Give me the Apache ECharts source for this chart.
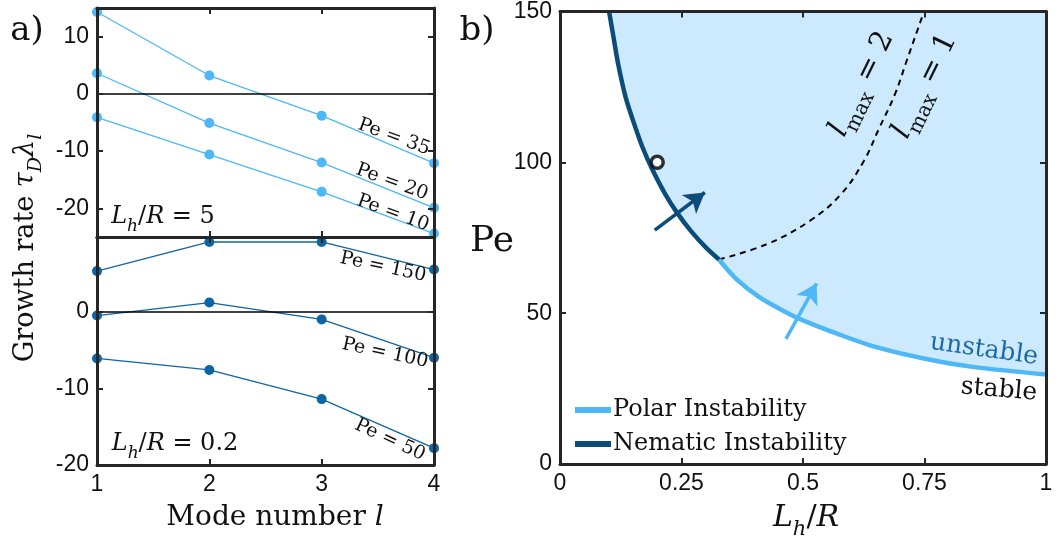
<!DOCTYPE html>
<html>
<head>
<meta charset="utf-8">
<script src="https://cdn.jsdelivr.net/npm/echarts@6/dist/echarts.min.js"></script>
<style>html,body{margin:0;padding:0;background:#fff}#chart{width:1057px;height:541px}</style>
</head>
<body>
<div id="chart"></div>
<script>
// ----- panel a: growth rate vs mode number -----
var modes = [1, 2, 3, 4];
// top, Lh/R = 5
var pe35 = [14.3, 3.2, -3.8, -12.1];
var pe20 = [3.6, -5.1, -12.0, -19.9];
var pe10 = [-4.1, -10.6, -17.1, -24.4];
// bottom, Lh/R = 0.2
var pe150 = [5.3, 9.1, 9.1, 5.5];
var pe100 = [-0.5, 1.2, -1.0, -6.0];
var pe50 = [-6.1, -7.6, -11.4, -17.8];

// ----- panel b: stability diagram -----
var nematicX = [0.101, 0.11, 0.12, 0.135, 0.15, 0.17, 0.19, 0.215, 0.24, 0.27, 0.30, 0.327];
var nematicPe = [150, 141.6, 132.3, 121.6, 114.0, 104.9, 97.6, 89.9, 83.5, 77.1, 71.8, 67.8];
var polarX = [0.327, 0.363, 0.41, 0.458, 0.5, 0.57, 0.649, 0.751, 0.849, 1.0];
var polarPe = [67.8, 61.3, 55.3, 50.9, 47.6, 43.2, 38.8, 34.9, 32.2, 29.7];
var lmaxX = [0.327, 0.426, 0.514, 0.578, 0.625, 0.657, 0.689, 0.713, 0.737, 0.749];
var lmaxPe = [67.8, 72.9, 80.6, 89.4, 100.4, 111.4, 122.5, 133.5, 144.5, 150];
var markedPoint = [0.2, 100];
var nematicArrow = [[0.195, 77.5], [0.298, 90]];
var polarArrow = [[0.465, 41.5], [0.528, 59.9]];

var lightBlue = '#4DB8F5';
var midBlue = '#0F64A3';
var darkBlue = '#0B4C78';
var fillBlue = '#CCE9FD';
var frame = '#262626';
var sans = '"Liberation Sans", Arial, sans-serif';
var serif = '"DejaVu Serif", serif';

function zip(xs, ys) { return xs.map(function (x, i) { return [x, ys[i]]; }); }

function xAx(grid, min, max, interval, showLabel, pos) {
  return {
    type: 'value', gridIndex: grid, min: min, max: max, interval: interval, position: pos, z: 10,
    axisLine: { show: true, onZero: false, lineStyle: { color: frame, width: 3 } },
    axisTick: { show: true, inside: true, length: 6, lineStyle: { color: frame, width: 2 } },
    axisLabel: { show: showLabel, color: '#111', fontFamily: sans, fontSize: 23, margin: 8 },
    splitLine: { show: false }
  };
}
function yAx(grid, min, max, interval, ticks, showLabel, pos) {
  return {
    type: 'value', gridIndex: grid, min: min, max: max, interval: interval, position: pos, z: 10,
    axisLine: { show: true, onZero: false, lineStyle: { color: frame, width: 3 } },
    axisTick: { show: true, inside: true, length: 6, customValues: ticks, lineStyle: { color: frame, width: 2 } },
    axisLabel: {
      show: showLabel, color: '#111', fontFamily: sans, fontSize: 23, margin: 8, customValues: ticks,
      formatter: function (v) { return ticks.indexOf(v) >= 0 ? String(v) : ''; }
    },
    splitLine: { show: false }
  };
}

var zeroLine = {
  silent: true, symbol: 'none', label: { show: false },
  lineStyle: { color: '#000', width: 1.5, type: 'solid' },
  data: [{ yAxis: 0 }]
};

function modeSeries(vals, color, xi, withZero) {
  var s = {
    type: 'line', xAxisIndex: xi, yAxisIndex: xi, data: zip(modes, vals),
    symbol: 'circle', symbolSize: 10, color: color,
    lineStyle: { color: color, width: 1.3 }, itemStyle: { color: color }, z: 3
  };
  if (withZero) s.markLine = zeroLine;
  return s;
}

function arrowLine(pts) {
  return {
    silent: true, symbol: ['none', 'arrow'], symbolSize: [18, 20], label: { show: false },
    lineStyle: { width: 3.5, type: 'solid' },
    data: [[{ coord: pts[0] }, { coord: pts[1] }]]
  };
}

// text with italic letters and subscripts, laid out piece by piece
// piece format: [text, 'n' | 'i' | 's' (italic sub) | 'r' (roman sub)]
var measureCtx = document.createElement('canvas').getContext('2d');
function pieceFont(kind, size) {
  var sub = kind === 's' || kind === 'r';
  var fs = sub ? Math.round(size * 0.7) : size;
  var it = kind === 'i' || kind === 's';
  return { size: fs, style: it ? 'italic' : 'normal', css: (it ? 'italic ' : '') + fs + 'px ' + serif, sub: sub };
}
function mathText(x, y, pieces, size, rot, color) {
  var widths = pieces.map(function (p) {
    measureCtx.font = pieceFont(p[1], size).css;
    return measureCtx.measureText(p[0]).width;
  });
  var total = widths.reduce(function (a, b) { return a + b; }, 0);
  var cx = -total / 2;
  var children = pieces.map(function (p, k) {
    var f = pieceFont(p[1], size);
    var el = {
      type: 'text', x: cx, y: f.sub ? size * 0.38 : 0, z: 100,
      style: {
        text: p[0], fontFamily: serif, fontSize: f.size, fontStyle: f.style,
        fill: color || '#111', align: 'left', verticalAlign: 'middle'
      }
    };
    cx += widths[k];
    return el;
  });
  return { type: 'group', x: x, y: y, rotation: (rot || 0) * Math.PI / 180, z: 100, children: children };
}
function label(x, y, text, size, rot, color) {
  return mathText(x, y, [[text, 'n']], size, rot, color);
}

var chart = echarts.init(document.getElementById('chart'), null, { renderer: 'canvas' });
chart.setOption({
  animation: false,
  backgroundColor: '#fff',
  grid: [
    { left: 97, top: 8, width: 337, height: 229 },
    { left: 97, top: 237, width: 337, height: 228 },
    { left: 560, top: 11, width: 486, height: 453 }
  ],
  xAxis: [
    xAx(0, 1, 4, 1, false, 'bottom'), xAx(0, 1, 4, 1, false, 'top'),
    xAx(1, 1, 4, 1, true, 'bottom'), xAx(1, 1, 4, 1, false, 'top'),
    xAx(2, 0, 1, 0.25, true, 'bottom'), xAx(2, 0, 1, 0.25, false, 'top')
  ],
  yAxis: [
    yAx(0, -25, 15, 5, [-20, -10, 0, 10], true, 'left'), yAx(0, -25, 15, 5, [-20, -10, 0, 10], false, 'right'),
    yAx(1, -20, 9.75, 10, [-20, -10, 0], true, 'left'), yAx(1, -20, 9.75, 10, [-20, -10, 0], false, 'right'),
    yAx(2, 0, 150, 50, [0, 50, 100, 150], true, 'left'), yAx(2, 0, 150, 50, [0, 50, 100, 150], false, 'right')
  ],
  legend: {
    data: ['Polar Instability', 'Nematic Instability'],
    orient: 'vertical', left: 570, top: 393, icon: 'rect', itemWidth: 36, itemHeight: 6, itemGap: 10,
    textStyle: { fontFamily: serif, fontSize: 24, color: '#111', padding: [0, 0, 0, -3] }
  },
  series: [
    modeSeries(pe35, lightBlue, 0, true),
    modeSeries(pe20, lightBlue, 0, false),
    modeSeries(pe10, lightBlue, 0, false),
    modeSeries(pe150, midBlue, 2, false),
    modeSeries(pe100, midBlue, 2, true),
    modeSeries(pe50, midBlue, 2, false),
    {
      type: 'line', xAxisIndex: 4, yAxisIndex: 4, symbol: 'none', silent: true, smooth: 0.3,
      data: zip(nematicX, nematicPe).concat(zip(polarX, polarPe).slice(1)),
      lineStyle: { width: 0 }, areaStyle: { color: fillBlue, opacity: 1, origin: 'end' }, z: 1
    },
    {
      name: 'Polar Instability', type: 'line', xAxisIndex: 4, yAxisIndex: 4, symbol: 'none', smooth: 0.3,
      data: zip(polarX, polarPe), color: lightBlue, itemStyle: { color: lightBlue },
      lineStyle: { color: lightBlue, width: 4.5 }, markLine: arrowLine(polarArrow), z: 4
    },
    {
      name: 'Nematic Instability', type: 'line', xAxisIndex: 4, yAxisIndex: 4, symbol: 'none', smooth: 0.3,
      data: zip(nematicX, nematicPe), color: darkBlue, itemStyle: { color: darkBlue },
      lineStyle: { color: darkBlue, width: 4.5 }, markLine: arrowLine(nematicArrow), z: 4
    },
    {
      type: 'line', xAxisIndex: 4, yAxisIndex: 4, symbol: 'none', smooth: 0.4,
      data: zip(lmaxX, lmaxPe), lineStyle: { color: '#000', width: 2, type: [6, 5] }, z: 3
    },
    {
      type: 'scatter', xAxisIndex: 4, yAxisIndex: 4, data: [markedPoint], symbol: 'circle', symbolSize: 12,
      itemStyle: { color: '#fff', borderColor: '#000', borderWidth: 3.5 }, z: 5
    }
  ],
  graphic: [
    label(27, 31, 'a)', 34, 0),
    label(477, 31, 'b)', 34, 0),
    mathText(275, 518, [['Mode number ', 'n'], ['l', 'i']], 28, 0),
    mathText(26, 248, [['Growth rate ', 'n'], ['τ', 'i'], ['D', 's'], ['λ', 'i'], ['l', 's']], 27, 90),
    label(492, 242, 'Pe', 36, 0),
    mathText(806, 518, [['L', 'i'], ['h', 's'], ['/', 'n'], ['R', 'i']], 30, 0),
    mathText(163, 217, [['L', 'i'], ['h', 's'], ['/', 'n'], ['R', 'i'], [' = 5', 'n']], 24, 0),
    mathText(175, 444, [['L', 'i'], ['h', 's'], ['/', 'n'], ['R', 'i'], [' = 0.2', 'n']], 24, 0),
    label(394, 137, 'Pe = 35', 19, -20),
    label(392, 182, 'Pe = 20', 19, -20),
    label(393, 213, 'Pe = 10', 19, -20),
    label(383, 267, 'Pe = 150', 19, -12),
    label(385, 353, 'Pe = 100', 19, -12),
    label(390, 440, 'Pe = 50', 19, -25),
    mathText(862, 84, [['l', 'i'], ['max', 'r'], [' = 2', 'n']], 29, 64),
    mathText(925, 86, [['l', 'i'], ['max', 'r'], [' = 1', 'n']], 29, 64),
    label(984, 350, 'unstable', 25, -8, '#1A6AA8'),
    label(999, 390, 'stable', 25, -5, '#111')
  ]
});
</script>
</body>
</html>
